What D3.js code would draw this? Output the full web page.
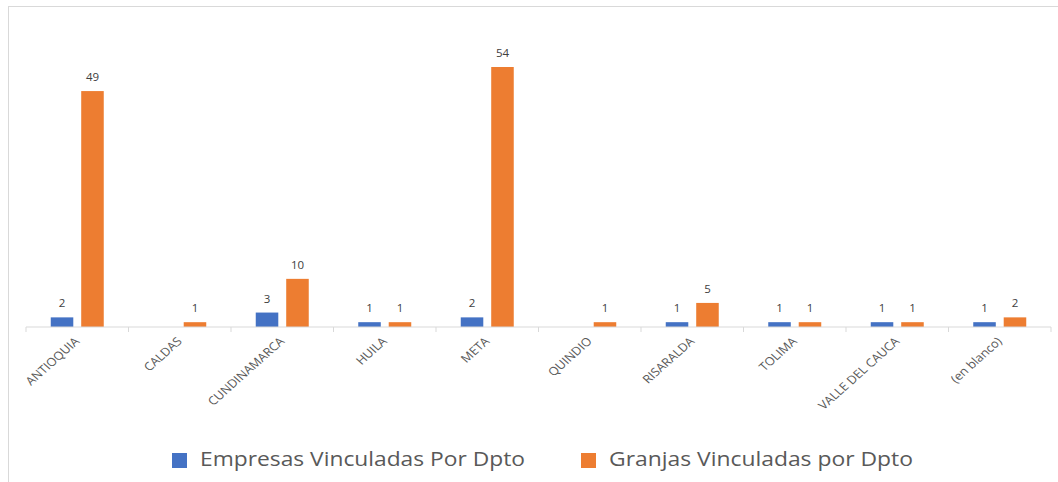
<!DOCTYPE html>
<html lang="en">
<head>
    <meta charset="UTF-8">
    <title>Empresas y Granjas por Dpto</title>
    <script src="https://d3js.org/d3.v7.min.js"></script>
    <style>
        body { margin: 0; background: #fff; }
        svg { font-family: "Open Sans", "Noto Sans", sans-serif; }
        .bar-label { font-size: 11.5px; fill: #404040; text-anchor: middle; }
        .cat-label { font-size: 11.5px; fill: #595959; }
        .legend-text { font-size: 20px; fill: #595959; }
    </style>
</head>
<body>
<script>
    // datos
    const departamentos = ['ANTIOQUIA', 'CALDAS', 'CUNDINAMARCA', 'HUILA', 'META', 'QUINDIO',
        'RISARALDA', 'TOLIMA', 'VALLE DEL CAUCA', '(en blanco)'];
    const empresas = [2, null, 3, 1, 2, null, 1, 1, 1, 1];
    const granjas = [49, 1, 10, 1, 54, 1, 5, 1, 1, 2];
    const series = ['Empresas Vinculadas Por Dpto', 'Granjas Vinculadas por Dpto'];
    const colores = ['#4472C4', '#ED7D31'];

    const width = 1058, height = 482;
    const svg = d3.select('body').append('svg')
        .attr('width', width)
        .attr('height', height);

    // marco del grafico
    svg.append('rect')
        .attr('x', 8.5).attr('y', 6.5)
        .attr('width', 1060).attr('height', 490)
        .attr('fill', 'none')
        .attr('stroke', '#D9D9D9');

    const x = d3.scaleBand()
        .domain(departamentos)
        .range([26, 1051]);

    const x1 = d3.scaleBand()
        .domain([0, 1])
        .range([x.bandwidth() / 2 - 26.5, x.bandwidth() / 2 + 26.5])
        .paddingInner(0.26);

    const y = d3.scaleLinear()
        .domain([0, 54])
        .range([327, 67]);

    // barras
    const grupos = svg.selectAll('.grupo')
        .data(departamentos)
        .enter().append('g')
        .attr('class', 'grupo')
        .attr('transform', d => 'translate(' + x(d) + ',0)');

    [empresas, granjas].forEach((valores, s) => {
        grupos.each(function (d, i) {
            const v = valores[i];
            if (v == null) return;
            const g = d3.select(this);
            g.append('rect')
                .attr('x', x1(s))
                .attr('width', x1.bandwidth())
                .attr('y', y(v))
                .attr('height', y(0) - y(v))
                .attr('fill', colores[s]);
            g.append('text')
                .attr('class', 'bar-label')
                .attr('x', x1(s) + x1.bandwidth() / 2)
                .attr('y', y(v) - 10)
                .text(v);
        });
    });

    // eje x
    const ejeX = svg.append('g')
        .attr('transform', 'translate(0,' + y(0) + ')');
    ejeX.append('line')
        .attr('x1', 26).attr('x2', 1051)
        .attr('stroke', '#D9D9D9');
    ejeX.selectAll('.tick')
        .data(d3.range(departamentos.length + 1))
        .enter().append('line')
        .attr('x1', i => 26 + i * x.step())
        .attr('x2', i => 26 + i * x.step())
        .attr('y1', 0).attr('y2', 5)
        .attr('stroke', '#D9D9D9');
    // etiquetas algo estiradas en horizontal, como en la imagen original
    ejeX.selectAll('.cat-label')
        .data(departamentos)
        .enter().append('text')
        .attr('class', 'cat-label')
        .attr('text-anchor', 'end')
        .attr('transform', d => 'translate(' + (x(d) + x.bandwidth() / 2 + 3) + ',15) scale(1.12,1) rotate(-45)')
        .text(d => d);

    // leyenda
    const leyendaX = [172, 581];
    const leyendaAncho = [325, 304];
    series.forEach((s, i) => {
        svg.append('rect')
            .attr('x', leyendaX[i]).attr('y', 453)
            .attr('width', 15).attr('height', 15)
            .attr('fill', colores[i]);
        svg.append('text')
            .attr('class', 'legend-text')
            .attr('x', leyendaX[i] + 28).attr('y', 466)
            .attr('textLength', leyendaAncho[i])
            .attr('lengthAdjust', 'spacingAndGlyphs')
            .text(s);
    });
</script>
</body>
</html>
